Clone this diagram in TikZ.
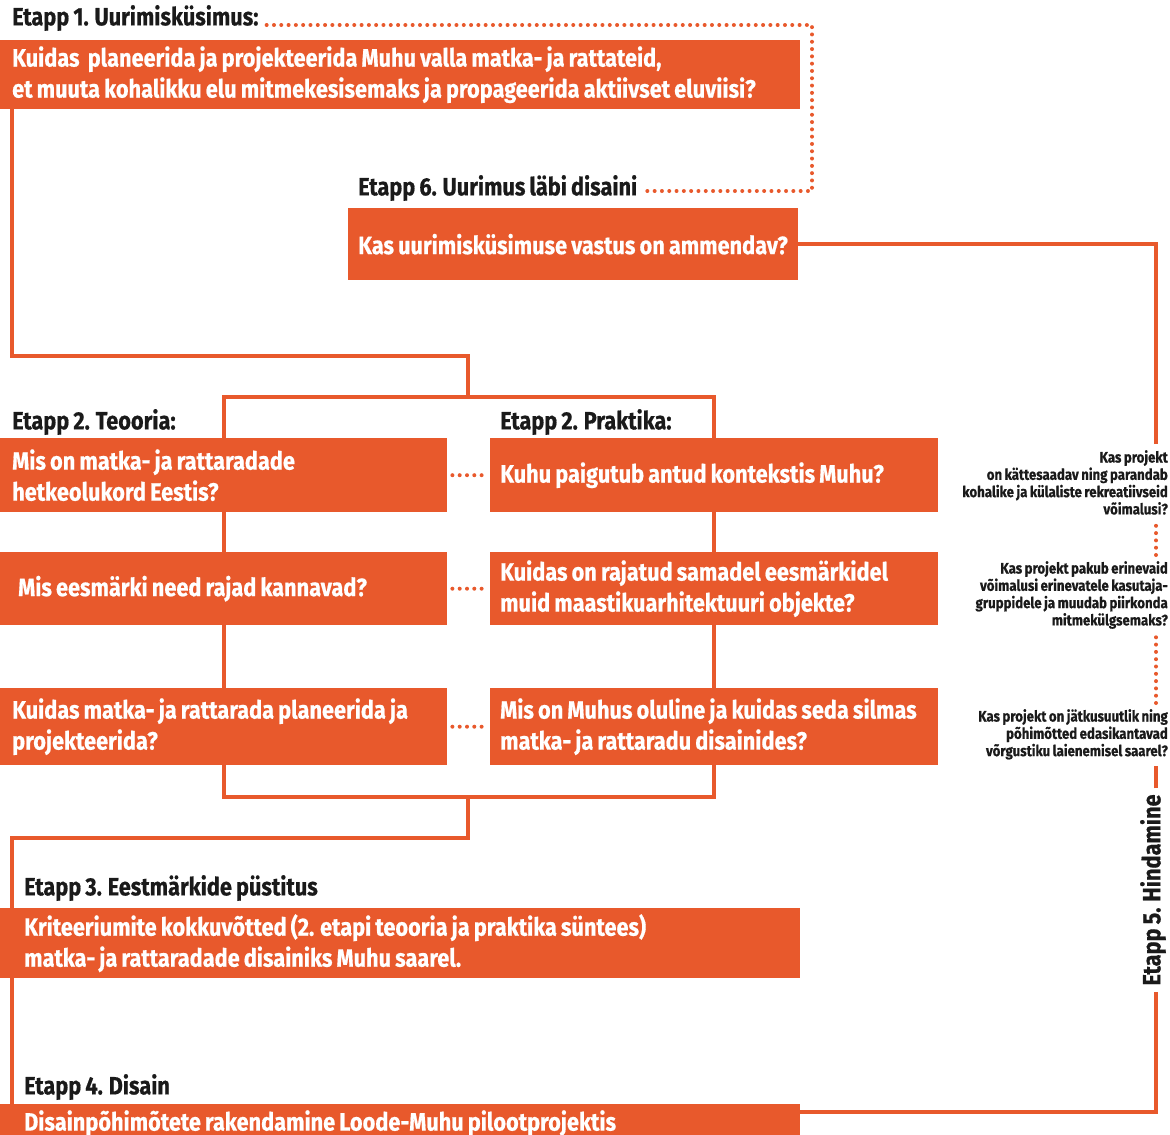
\documentclass[tikz,border=0pt]{standalone}
\usepackage{fontspec}
\setmainfont{Fira Sans}[FakeStretch=0.87, WordSpace=0.8, BoldFeatures={FakeBold=0.6}]
\definecolor{muhuorange}{HTML}{E8592C}
\definecolor{labelblack}{HTML}{1A1A1A}
\begin{document}
\begin{tikzpicture}[]
      \useasboundingbox (0pt,0pt) rectangle (1170pt,-1135pt);
      \coordinate (origo) at (0pt,0pt);

      \tikzstyle{box} = [
        rectangle,
        fill=muhuorange,
        anchor=north west,
        inner xsep=12pt,
        inner ysep=0pt,
        align=left,
        text=white,
        execute at begin node={\spaceskip=0pt\xspaceskip=0pt\hyphenpenalty=10000},
        font=\bfseries\fontsize{25}{31}\selectfont
      ]
      \tikzstyle{stage} = [
        anchor=west,
        inner sep=0pt,
        text=labelblack,
        font=\bfseries\fontsize{25}{28}\selectfont
      ]
      \tikzstyle{crit} = [
        anchor=north east,
        inner xsep=0pt,
        inner ysep=6pt,
        align=right,
        text=labelblack,
        execute at begin node={\spaceskip=0pt\xspaceskip=0pt},
        font=\bfseries\fontsize{15.2}{17.3}\selectfont
      ]

      \tikzstyle{link} = [line width=4pt, draw=muhuorange]
      \tikzstyle{dotlink} = [line width=4pt, draw=muhuorange, line cap=round, dash pattern=on 0pt off 7.3pt]

      % stage 1
      \node[stage] (stage1) at ([xshift=12pt,yshift=-18pt] origo) {Etapp 1. Uurimisküsimus:};
      \node[box,minimum width=800pt,minimum height=69pt,text width=776pt] (question) at ([yshift=-40pt] origo) {Kuidas\ \ planeerida ja projekteerida Muhu valla matka- ja rattateid,\\et muuta kohalikku elu mitmekesisemaks ja propageerida aktiivset eluviisi?};

      % stage 6
      \node[stage] (stage6) at ([xshift=358pt,yshift=-188pt] origo) {Etapp 6. Uurimus läbi disaini};
      \node[box,inner xsep=10pt,minimum width=450pt,minimum height=72pt,text width=430pt] (answer) at ([xshift=348pt,yshift=-208pt] origo) {Kas uurimisküsimuse vastus on ammendav?};

      % stage 2 theory
      \node[stage] (theoryLabel) at ([xshift=12pt,yshift=-422pt] origo) {Etapp 2. Teooria:};
      \node[box,minimum width=447pt,minimum height=74pt,text width=423pt] (theory1) at ([yshift=-438pt] origo) {Mis on matka- ja rattaradade\\hetkeolukord Eestis?};
      \node[box,inner xsep=18pt,minimum width=447pt,minimum height=73pt,text width=411pt] (theory2) at ([yshift=-552pt] origo) {Mis eesmärki need rajad kannavad?};
      \node[box,minimum width=447pt,minimum height=77pt,text width=423pt] (theory3) at ([yshift=-688pt] origo) {Kuidas matka- ja rattarada planeerida ja\\projekteerida?};

      % stage 2 practice
      \node[stage] (practiceLabel) at ([xshift=500pt,yshift=-422pt] origo) {Etapp 2. Praktika:};
      \node[box,inner xsep=10pt,minimum width=448pt,minimum height=74pt,text width=428pt] (practice1) at ([xshift=490pt,yshift=-438pt] origo) {Kuhu paigutub antud kontekstis Muhu?};
      \node[box,inner xsep=10pt,minimum width=448pt,minimum height=73pt,text width=428pt] (practice2) at ([xshift=490pt,yshift=-552pt] origo) {Kuidas on rajatud samadel eesmärkidel\\muid maastikuarhitektuuri objekte?};
      \node[box,inner xsep=10pt,minimum width=448pt,minimum height=77pt,text width=428pt] (practice3) at ([xshift=490pt,yshift=-688pt] origo) {Mis on Muhus oluline ja kuidas seda silmas\\matka- ja rattaradu disainides?};

      % stage 3
      \node[stage] (stage3) at ([xshift=24pt,yshift=-888pt] origo) {Etapp 3. Eestmärkide püstitus};
      \node[box,inner xsep=24pt,minimum width=800pt,minimum height=70pt,text width=752pt] (criteria) at ([yshift=-908pt] origo) {Kriteeriumite kokkuvõtted (2. etapi teooria ja praktika süntees)\\matka- ja rattaradade disainiks Muhu saarel.};

      % stage 4
      \node[stage] (stage4) at ([xshift=24pt,yshift=-1087pt] origo) {Etapp 4. Disain};
      \node[box,inner xsep=24pt,minimum width=800pt,minimum height=38pt,text width=752pt] (design) at ([yshift=-1104pt] origo) {Disainpõhimõtete rakendamine Loode-Muhu pilootprojektis};

      % stage 5
      \node[crit] (eval1) at ([xshift=1168pt,yshift=-444pt] origo) {Kas projekt\\on kättesaadav ning parandab\\kohalike ja külaliste rekreatiivseid\\võimalusi?};
      \node[crit] (eval2) at ([xshift=1168pt,yshift=-555pt] origo) {Kas projekt pakub erinevaid\\võimalusi erinevatele kasutaja-\\gruppidele ja muudab piirkonda\\mitmekülgsemaks?};
      \node[crit] (eval3) at ([xshift=1168pt,yshift=-703pt] origo) {Kas projekt on jätkusuutlik ning\\põhimõtted edasikantavad\\võrgustiku laienemisel saarel?};
      \node[stage,anchor=center,rotate=90,outer sep=6pt] (stage5) at ([xshift=1153pt,yshift=-890pt] origo) {Etapp 5. Hindamine};

      \coordinate (rail) at ([xshift=1156pt] origo);
      \coordinate (loopEnd) at ([xshift=1156pt,yshift=-1112pt] origo);
      \coordinate (feedback) at ([xshift=812pt,yshift=-191pt] origo);
      \coordinate (bendA) at ([xshift=468pt,yshift=-356pt] origo);
      \coordinate (splitTop) at ([xshift=468pt,yshift=-397pt] origo);
      \coordinate (splitBot) at ([xshift=468pt,yshift=-797pt] origo);
      \coordinate (bendB) at ([xshift=12pt,yshift=-838pt] origo);

      % forward
      \draw[link] ([xshift=12pt] question.south west) |- (bendA) -- (splitTop);
      \draw[link] (theory1.north) |- (splitTop) -| (practice1.north);
      \draw[link] (theory1.south) -- (theory2.north);
      \draw[link] (theory2.south) -- (theory3.north);
      \draw[link] (practice1.south) -- (practice2.north);
      \draw[link] (practice2.south) -- (practice3.north);
      \draw[link] (theory3.south) |- (splitBot) -| (practice3.south);
      \draw[link] (splitBot) |- (bendB) -- ([xshift=12pt] criteria.north west);
      \draw[link] ([xshift=12pt] criteria.south west) -- ([xshift=12pt] design.north west);

      % theory - practice
      \draw[dotlink] ([xshift=5pt] theory1.east) -- ([xshift=-3pt] practice1.west);
      \draw[dotlink] ([xshift=5pt] theory2.east) -- ([xshift=-3pt] practice2.west);
      \draw[dotlink] ([xshift=5pt] theory3.east) -- ([xshift=-3pt] practice3.west);

      % evaluation loop
      \draw[link] (design.east |- loopEnd) -- (loopEnd) -- (stage5.west -| rail);
      \draw[link] (stage5.east -| rail) -- (eval3.south -| rail);
      \draw[dotlink] (eval3.north -| rail) -- (eval2.south -| rail);
      \draw[dotlink] (eval2.north -| rail) -- (eval1.south -| rail);
      \draw[link] (eval1.north -| rail) |- (answer.east);

      % research through design
      \draw[dotlink] ([xshift=8pt,yshift=-7pt] stage1.east) -| (feedback) -- ([xshift=8pt,yshift=-3pt] stage6.east);
    \end{tikzpicture}
\end{document}
